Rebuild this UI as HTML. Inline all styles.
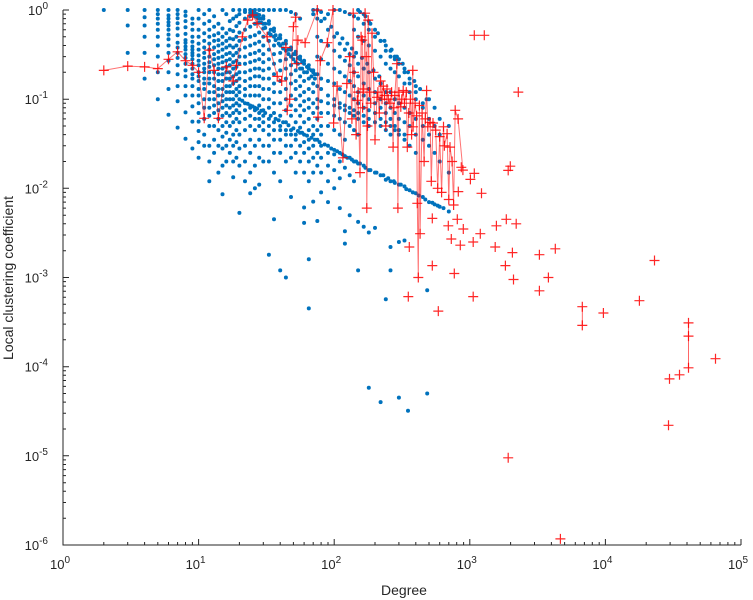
<!DOCTYPE html>
<html><head><meta charset="utf-8"><style>
html,body{margin:0;padding:0;background:#fff;}
svg{display:block;font-family:"Liberation Sans",sans-serif;}
</style></head><body>
<svg id="chart" width="753" height="600" viewBox="0 0 753 600" xmlns="http://www.w3.org/2000/svg">
<g id="blue"></g>
<g id="red"></g>
<g id="axes"></g>
<text x="404" y="595" font-size="14" fill="#262626" text-anchor="middle">Degree</text>
<text transform="translate(13,278) rotate(-90)" font-size="14" fill="#262626" text-anchor="middle">Local clustering coefficient</text>
</svg>
<script>
// ---- data ----
const xTickExps = [0,1,2,3,4,5];
const yTickExps = [0,-1,-2,-3,-4,-5,-6];
const blueColDegrees = [2,3,4,5,6,7,8,9,10,11,12,13,14,15,16,17,18,19,20,22,24,26,28,30,33,36,40,44,48,52,56,60,65,70,75,80,90,100,110,120,130,140,150,165,180,200,220,240,260,280,300,330,350,360,400,450,485,500,550,600,700];
const blueColCoefs = [
[1],
[1,0.67,0.33],
[1,0.83,0.67,0.5,0.33,0.17],
[1,0.9,0.8,0.7,0.6,0.5,0.4,0.3,0.2,0.1],
[1,0.87,0.8,0.73,0.67,0.6,0.53,0.47,0.4,0.33,0.27,0.2,0.13,0.067],
[1,0.9,0.81,0.71,0.62,0.52,0.43,0.38,0.33,0.29,0.24,0.19,0.14,0.095,0.048],
[0.96,0.86,0.75,0.64,0.54,0.46,0.43,0.39,0.36,0.32,0.29,0.25,0.21,0.18,0.14,0.11,0.071,0.036],
[0.8,0.7,0.6,0.5,0.44,0.39,0.36,0.33,0.31,0.28,0.25,0.22,0.19,0.17,0.14,0.11,0.083,0.056,0.028],
[1,0.8,0.6,0.5,0.42,0.36,0.31,0.27,0.24,0.2,0.18,0.16,0.13,0.11,0.09,0.07,0.056,0.044,0.033,0.022],
[0.9,0.7,0.55,0.45,0.38,0.33,0.29,0.25,0.22,0.2,0.17,0.15,0.13,0.1,0.08,0.06,0.04,0.03],
[1,0.75,0.6,0.5,0.42,0.36,0.3,0.26,0.23,0.2,0.17,0.15,0.12,0.1,0.08,0.065,0.05,0.03,0.02,0.012],
[0.85,0.65,0.52,0.45,0.38,0.32,0.28,0.24,0.2,0.17,0.14,0.12,0.1,0.085,0.07,0.05,0.035,0.025],
[0.7,0.55,0.46,0.4,0.34,0.29,0.25,0.22,0.19,0.16,0.13,0.11,0.09,0.075,0.06,0.045,0.03,0.015],
[1,0.62,0.5,0.42,0.36,0.3,0.26,0.22,0.19,0.16,0.13,0.11,0.095,0.08,0.065,0.05,0.038,0.028,0.018,0.0086],
[0.9,0.55,0.45,0.38,0.32,0.27,0.23,0.2,0.17,0.14,0.12,0.1,0.085,0.07,0.055,0.042,0.03,0.02],
[0.75,0.6,0.48,0.4,0.33,0.28,0.24,0.2,0.17,0.14,0.12,0.1,0.08,0.065,0.05,0.035,0.025],
[1,0.8,0.58,0.47,0.38,0.31,0.26,0.22,0.18,0.15,0.12,0.1,0.085,0.07,0.055,0.04,0.03,0.02,0.0133],
[0.85,0.66,0.5,0.4,0.33,0.27,0.23,0.19,0.16,0.13,0.11,0.09,0.075,0.06,0.045,0.033,0.022],
[1,0.9,0.72,0.56,0.45,0.36,0.3,0.25,0.2,0.17,0.14,0.12,0.1,0.085,0.07,0.055,0.04,0.028,0.018,0.0053],
[1,0.95,0.8,0.6,0.47,0.38,0.3,0.25,0.2,0.16,0.13,0.11,0.09,0.075,0.06,0.045,0.03,0.02,0.012],
[1,0.93,0.85,0.65,0.5,0.4,0.32,0.26,0.21,0.17,0.14,0.11,0.085,0.08,0.065,0.05,0.035,0.025,0.015,0.0088],
[1,0.92,0.85,0.7,0.52,0.42,0.33,0.27,0.22,0.18,0.14,0.11,0.08,0.075,0.06,0.045,0.03,0.018,0.01],
[1,0.88,0.8,0.72,0.56,0.44,0.35,0.28,0.22,0.18,0.14,0.11,0.085,0.07,0.06,0.05,0.035,0.022,0.011],
[1,0.85,0.8,0.7,0.62,0.5,0.4,0.32,0.26,0.21,0.17,0.13,0.1,0.075,0.065,0.055,0.045,0.03,0.02],
[1,0.75,0.7,0.55,0.45,0.36,0.28,0.22,0.17,0.13,0.1,0.08,0.06,0.05,0.04,0.03,0.02,0.0018],
[1,0.62,0.58,0.5,0.4,0.32,0.25,0.19,0.15,0.12,0.09,0.07,0.055,0.045,0.035,0.025,0.015,0.0045],
[1,0.52,0.48,0.4,0.33,0.27,0.21,0.16,0.12,0.09,0.065,0.05,0.045,0.035,0.025,0.012,0.0012],
[1,0.45,0.42,0.35,0.28,0.22,0.17,0.13,0.1,0.075,0.055,0.045,0.04,0.03,0.02,0.001],
[0.95,0.38,0.36,0.3,0.24,0.19,0.15,0.11,0.085,0.065,0.045,0.04,0.03,0.022,0.008],
[0.9,0.34,0.32,0.26,0.21,0.16,0.13,0.1,0.075,0.055,0.04,0.035,0.025,0.015],
[0.8,0.3,0.28,0.22,0.18,0.14,0.11,0.085,0.065,0.048,0.042,0.03,0.02],
[0.27,0.25,0.2,0.16,0.12,0.095,0.075,0.055,0.04,0.033,0.025,0.015,0.0061,0.0041],
[0.24,0.22,0.17,0.13,0.1,0.08,0.06,0.045,0.035,0.028,0.02,0.012,0.0016,0.00045],
[1,0.9,0.21,0.2,0.15,0.12,0.09,0.07,0.05,0.04,0.03,0.022,0.015,0.0071],
[1,0.8,0.5,0.3,0.19,0.14,0.1,0.08,0.06,0.045,0.035,0.025,0.018,0.0043],
[0.95,0.75,0.45,0.28,0.17,0.13,0.095,0.07,0.05,0.04,0.03,0.022,0.015,0.009],
[0.9,0.6,0.4,0.25,0.16,0.11,0.09,0.07,0.05,0.03,0.025,0.018,0.012,0.007],
[1,0.5,0.35,0.22,0.15,0.1,0.085,0.065,0.045,0.027,0.024,0.016,0.01],
[1,0.42,0.3,0.2,0.13,0.09,0.08,0.06,0.04,0.025,0.02,0.013,0.006],
[0.95,0.36,0.27,0.18,0.12,0.085,0.075,0.055,0.035,0.023,0.017,0.0033,0.0024],
[0.9,0.32,0.24,0.16,0.11,0.08,0.07,0.05,0.022,0.014,0.005],
[0.85,0.6,0.3,0.2,0.14,0.1,0.075,0.065,0.045,0.02,0.012],
[1,0.8,0.5,0.25,0.18,0.12,0.09,0.07,0.06,0.04,0.019,0.0042,0.0012],
[0.9,0.7,0.45,0.22,0.15,0.11,0.08,0.065,0.055,0.018,0.0037],
[0.75,0.6,0.4,0.2,0.13,0.1,0.075,0.06,0.05,0.016,0.0032,5.8e-5],
[0.6,0.5,0.35,0.17,0.12,0.09,0.07,0.055,0.015,0.0036],
[0.45,0.45,0.3,0.15,0.1,0.08,0.06,0.05,0.014,4e-5],
[0.35,0.4,0.25,0.12,0.09,0.07,0.055,0.045,0.0125,0.00057],
[0.3,0.35,0.22,0.12,0.08,0.06,0.05,0.04,0.012,0.0012,0.0022],
[0.28,0.3,0.2,0.1,0.07,0.05,0.045,0.0115],
[0.25,0.28,0.18,0.09,0.06,0.045,0.04,0.011,0.0025,4.5e-5],
[0.22,0.2,0.15,0.08,0.055,0.04,0.035,0.0105,0.0026],
[3.2e-5],
[0.15,0.17,0.12,0.07,0.05,0.03,0.0095],
[0.12,0.14,0.1,0.06,0.04,0.025,0.0088],
[0.09,0.08,0.05,0.035,0.008],
[5e-5,0.00072],
[0.1,0.06,0.04,0.03,0.007],
[0.08,0.05,0.025,0.0066],
[0.06,0.04,0.02,0.0062],
[0.05,0.015,0.0055]
];
const blueBandDegrees = [25,27,29,31,34,37,39,42,46,50,54,58,63,68,72,
25,27,29,31,34,37,39,42,46,50,54,58,63,68,72,
21,23,25,27,29,31,34,37,39,42,46,50,54,58,63,68,72,78,85,95,105,115,125,135,145,155,170,185,205,230,250,275,310,340,380,420,470,530,580,640,
85,95,105,115,125,135,145,160,175,195,215,
155,170,185,210,235,265,290,320,350,390,430,480];
const blueBandCoefs = [0.93,0.82,0.72,0.63,0.53,0.46,0.42,0.37,0.32,0.28,0.25,0.22,0.2,0.18,0.17,
0.98,0.9,0.8,0.7,0.6,0.52,0.48,0.42,0.36,0.32,0.29,0.26,0.23,0.21,0.19,
0.096,0.089,0.083,0.078,0.074,0.07,0.065,0.06,0.058,0.055,0.051,0.047,0.044,0.042,0.039,0.037,0.035,0.033,0.031,0.028,0.026,0.024,0.022,0.021,0.02,0.019,0.017,0.016,0.015,0.014,0.013,0.012,0.011,0.0098,0.009,0.0083,0.0075,0.0069,0.0064,0.006,
0.8,0.65,0.55,0.48,0.42,0.37,0.33,0.29,0.25,0.21,0.18,
0.95,0.85,0.7,0.55,0.45,0.36,0.3,0.25,0.2,0.16,0.13,0.1];
const redLineDegrees = [2,3,4,5,6,7,8,9,10,11,12,13,14,16,18,19,21,23,25,27,32,38,41,44,45,47,50,52,53,54,61,75,76,79,89,98,99,105,116,124,138,148,155,161,169,174,178,190,207,230,258,272,290,295,310,323,346,380,382,410,417,430,480,490,535,640,680,715,780,890,
130,135,140,145,150,158,162,165,172,176,182,186,195,200,210,215,220,225,235,240,245,250,265,275,280,300,315,330,340,355,365,372,395,405,425,445,460,470,510,520,560,580,600,620,650,700,740,760,820];
const redLineCoefs = [0.21,0.235,0.23,0.22,0.28,0.34,0.27,0.24,0.2,0.061,0.355,0.21,0.061,0.23,0.16,0.24,0.5,0.77,0.88,0.71,0.5,0.18,0.16,0.38,0.075,0.1,0.65,0.83,0.25,0.46,0.43,1.0,0.063,0.27,0.43,1.0,0.054,0.14,0.022,0.15,0.92,0.097,0.015,0.46,0.92,0.006,0.77,0.55,0.105,0.14,0.09,0.029,0.25,0.006,0.082,0.125,0.029,0.21,0.049,0.0068,0.001,0.0031,0.125,0.049,0.054,0.049,0.041,0.029,0.075,0.016,
0.3,0.06,0.2,0.04,0.12,0.5,0.08,0.13,0.3,0.05,0.12,0.09,0.2,0.035,0.12,0.07,0.16,0.1,0.11,0.05,0.13,0.1,0.12,0.08,0.11,0.12,0.1,0.09,0.12,0.07,0.1,0.04,0.09,0.065,0.085,0.07,0.02,0.06,0.055,0.012,0.045,0.01,0.038,0.009,0.03,0.0075,0.02,0.0065,0.06];
const redPointDegrees = [1080,1280,2280,865,1990,1920,1080,1010,822,1220,809,694,896,1195,1570,1860,2200,730,851,1060,1540,2060,3260,4270,23000,1830,2100,3800,3260,17800,6760,6760,9660,41000,41000,64900,41000,35200,29700,29200,529,769,1060,586,352,358,529,1920,4660];
const redPointCoefs = [0.52,0.52,0.12,0.0172,0.0177,0.0159,0.0147,0.0126,0.0092,0.0088,0.0045,0.0038,0.0035,0.0031,0.0038,0.0045,0.004,0.0027,0.0023,0.0025,0.0022,0.0019,0.0018,0.0021,0.00155,0.00136,0.00095,0.001,0.00071,0.00055,0.00047,0.00029,0.0004,0.00031,0.00022,0.000123,9.7e-5,8.1e-5,7.3e-5,2.2e-5,0.00136,0.00111,0.00061,0.00042,0.00061,0.0022,0.0046,9.5e-6,1.17e-6];

// ---- axis functions ----
const X0=63, X1=741, Y0=10, Y1=545;
function xScale(k){ return X0 + (Math.log10(k)-0)/(5-0)*(X1-X0); }
function yScale(c){ return Y0 + (0-Math.log10(c))/(0-(-6))*(Y1-Y0); }
const NS='http://www.w3.org/2000/svg';
function mk(tag, attrs, parent){ const e=document.createElementNS(NS,tag); for(const a in attrs) e.setAttribute(a,attrs[a]); parent.appendChild(e); return e; }

// blue
const gb=document.getElementById('blue');
function dot(k,c){
  const d=mk('circle',{cx:xScale(k).toFixed(1),cy:yScale(c).toFixed(1),r:2,fill:'#0072BD'},gb);
  
  
}
blueColDegrees.forEach((k,i)=>{ blueColCoefs[i].forEach(c=>dot(k,c)); });
blueBandDegrees.forEach((k,i)=>dot(k,blueBandCoefs[i]));

// red line
const gr=document.getElementById('red');
const order=redLineDegrees.map((k,i)=>i).sort((a,b)=>redLineDegrees[a]-redLineDegrees[b]);
let dstr='';
order.forEach((i,j)=>{ dstr+=(j?'L':'M')+xScale(redLineDegrees[i]).toFixed(1)+' '+yScale(redLineCoefs[i]).toFixed(1); });
const pl=mk('path',{d:dstr,fill:'none',stroke:'#ff0000','stroke-opacity':0.55,'stroke-width':1},gr);


for(let i=0;i<redPointDegrees.length;i++){
  for(let j=i+1;j<redPointDegrees.length;j++){
    if(redPointDegrees[i]===redPointDegrees[j] && Math.abs(Math.log10(redPointCoefs[i]/redPointCoefs[j]))<0.4){
      const seg=mk('line',{x1:xScale(redPointDegrees[i]),y1:yScale(redPointCoefs[i]),x2:xScale(redPointDegrees[j]),y2:yScale(redPointCoefs[j]),stroke:'#ff0000','stroke-opacity':0.6,'stroke-width':1},gr);
      
      
    }
  }
}
function plus(k,c){
  const x=xScale(k), y=yScale(c);
  const p=mk('path',{d:`M${(x-5).toFixed(1)} ${y.toFixed(1)}H${(x+5).toFixed(1)}M${x.toFixed(1)} ${(y-5).toFixed(1)}V${(y+5).toFixed(1)}`,stroke:'#ff0000','stroke-width':1.2,'stroke-opacity':0.85,fill:'none'},gr);
  
  
}
redLineDegrees.forEach((k,i)=>plus(k,redLineCoefs[i]));
redPointDegrees.forEach((k,i)=>plus(k,redPointCoefs[i]));

// axes
const ga=document.getElementById('axes');
const ax=mk('path',{d:`M${X0} ${Y0}V${Y1}H${X1}`,stroke:'#262626','stroke-width':1,fill:'none'},ga);


let tk='';
xTickExps.forEach(e=>{
  const x=xScale(Math.pow(10,e));
  tk+=`M${x.toFixed(1)} ${Y1}v-6`;
  if(e<5) for(let m=2;m<10;m++){ const xm=xScale(m*Math.pow(10,e)); tk+=`M${xm.toFixed(1)} ${Y1}v-3`; }
  const t=mk('text',{x:x-3,y:569,'font-size':13,fill:'#262626','text-anchor':'middle'},ga);
  
  
  t.innerHTML='10<tspan dy="-6" font-size="10">'+e+'</tspan>';
});
yTickExps.forEach(e=>{
  const y=yScale(Math.pow(10,e));
  tk+=`M${X0} ${y.toFixed(1)}h6`;
  if(e>-6) for(let m=2;m<10;m++){ const ym=yScale(m*Math.pow(10,e-1)); tk+=`M${X0} ${ym.toFixed(1)}h3`; }
  const t=mk('text',{x:48,y:y+5,'font-size':13,fill:'#262626','text-anchor':'end'},ga);
  
  
  t.innerHTML='10<tspan dy="-6" font-size="10">'+e+'</tspan>';
});
const tp=mk('path',{d:tk,stroke:'#262626','stroke-width':1,fill:'none'},ga);


</script>
</body></html>
